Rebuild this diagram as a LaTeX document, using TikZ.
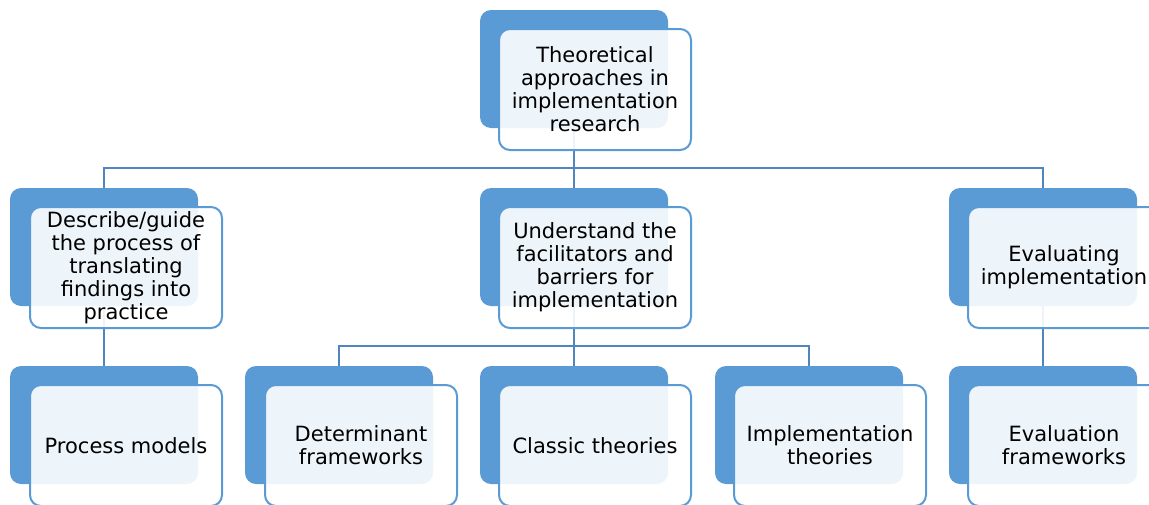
\documentclass[tikz,border=0pt]{standalone}
\usepackage{fontspec}
\setmainfont{DejaVu Sans}
\begin{document}
\definecolor{boxblue}{HTML}{5B9BD5}
\definecolor{linkblue}{HTML}{4F86C0}
\begin{tikzpicture}[x=1pt,y=-1pt,
  backbox/.style={rectangle, rounded corners=11pt, fill=boxblue, draw=none,
    minimum width=188pt, minimum height=118pt, inner sep=0pt},
  frontbox/.style={rectangle, rounded corners=11pt, fill=white, fill opacity=0.9,
    text opacity=1, draw=boxblue, line width=2pt, minimum width=192pt,
    minimum height=121pt, inner sep=0pt, align=center, text=black,
    font=\fontsize{21pt}{23pt}\selectfont},
  link/.style={draw=linkblue, line width=2.4pt}]
\useasboundingbox (0,0) rectangle (1149,504);
\clip (0,0) rectangle (1149,504);

% back (solid) boxes
\node[backbox] (topB)   at (574,69) {};
\node[backbox] (leftB)  at (104,247) {};
\node[backbox] (midB)   at (574,247) {};
\node[backbox] (rightB) at (1043,247) {};
\node[backbox] (procB)  at (104,425) {};
\node[backbox] (detB)   at (339,425) {};
\node[backbox] (classB) at (574,425) {};
\node[backbox] (implB)  at (809,425) {};
\node[backbox] (evalB)  at (1043,425) {};

% bus points of the tree
\coordinate (bus1) at (574,168);
\coordinate (bus2) at (574,346);

% connectors
\draw[link] (topB.south) -- (bus1);
\draw[link] (leftB.north) |- (bus1);
\draw[link] (rightB.north) |- (bus1);
\draw[link] (midB.north) -- (bus1);
\draw[link] (midB.south) -- (bus2);
\draw[link] (detB.north) |- (bus2);
\draw[link] (implB.north) |- (bus2);
\draw[link] (classB.north) -- (bus2);
\draw[link] (leftB.south) -- (procB.north);
\draw[link] (rightB.south) -- (evalB.north);

% front (text) boxes
\node[frontbox] (top)   at (595,89.5) {Theoretical\\approaches in\\implementation\\research};
\node[frontbox] (left)  at (126,267.5) {Describe/guide\\the process of\\translating\\findings into\\practice};
\node[frontbox] (mid)   at (595,267.5) {Understand the\\facilitators and\\barriers for\\implementation};
\node[frontbox] (right) at (1064,267.5) {Evaluating\\implementation};
\node[frontbox] (proc)  at (126,445.5) {Process models};
\node[frontbox] (det)   at (361,445.5) {Determinant\\frameworks};
\node[frontbox] (class) at (595,445.5) {Classic theories};
\node[frontbox] (impl)  at (830,445.5) {Implementation\\theories};
\node[frontbox] (eval)  at (1064,445.5) {Evaluation\\frameworks};
\end{tikzpicture}
\end{document}
